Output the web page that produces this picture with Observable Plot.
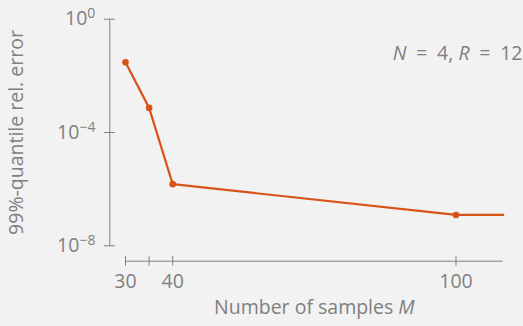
<!DOCTYPE html>
<html><head><meta charset="utf-8">
<script src="https://cdn.jsdelivr.net/npm/d3@7"></script>
<script src="https://cdn.jsdelivr.net/npm/@observablehq/plot@0.6"></script>
<style>
html,body{margin:0;padding:0;background:#f2f2f2;}
#chart svg{display:block;}
</style></head>
<body><div id="chart"></div>
<script>
// ---- data ----
const samplesM = [30, 35, 40, 100];
const errorQ99 = [3.0e-2, 7.4e-4, 1.5e-6, 1.23e-7];
const tailM = [110];            // line continues flat to the axis end (no marker)
const tailErr = [1.23e-7];
const xTicks = [30, 35, 40, 100];
const xTickLabels = ["30", "", "40", "100"];
const yTicks = [1, 1e-4, 1e-8];
const yTickExponents = ["0", "\u22124", "\u22128"];
const xLabelParts = ["Number of samples ", "M"];
const yLabel = "99%-quantile rel. error";
const noteParts = [["N", true], ["\u2002=\u20024, ", false], ["R", true], ["\u2002=\u200212", false]];

const points = samplesM.map((m, i) => ({m, err: errorQ99[i]}));
const lineData = points.concat(tailM.map((m, i) => ({m, err: tailErr[i]})));

const gray = "#808080";
const orange = "#d95319";

const plot = Plot.plot({
  width: 523,
  height: 326,
  marginLeft: 109.3,
  marginRight: 20.3,
  marginTop: 18.7,
  marginBottom: 80.7,
  style: {background: "#f2f2f2", color: gray, fontFamily: "'Open Sans', sans-serif", fontSize: "19.5px"},
  x: {domain: [30, 110], range: [125, 502.7]},
  y: {type: "log", domain: [1e-8, 1], range: [245.3, 18.7]},
  marks: [
    Plot.frame({anchor: "left", stroke: gray}),
    Plot.ruleY([1e-8], {x1: 30, x2: 110, dy: 15.4, stroke: gray}),
    Plot.axisX({ticks: xTicks, tickSize: 10, dy: 10.4, tickPadding: 8,
      tickFormat: d => xTickLabels[xTicks.indexOf(d)], label: null, stroke: gray}),
    Plot.axisY({ticks: yTicks, tickSize: 11, dx: 5.6, tickPadding: 9,
      tickFormat: d => "10^" + yTickExponents[yTicks.indexOf(d)], label: null, stroke: gray}),
    Plot.line(lineData, {x: "m", y: "err", stroke: orange, strokeWidth: 2.2}),
    Plot.dot(points, {x: "m", y: "err", r: 3.3, fill: orange}),
    Plot.text([xLabelParts.join("")], {x: 70, frameAnchor: "bottom", dy: 68.5, fill: gray, textAnchor: "middle"}),
    Plot.text([yLabel], {frameAnchor: "left", dx: -93, rotate: -90, fill: gray, textAnchor: "middle"}),
    Plot.text([noteParts.map(p => p[0]).join("")], {frameAnchor: "top-right", dx: 19.3, dy: 27, fill: gray, textAnchor: "end"})
  ]
});
document.getElementById("chart").appendChild(plot);

// rich text: superscripts and italics
const svg = d3.select(plot);
const xLabelText = xLabelParts.join("");
const noteText = noteParts.map(p => p[0]).join("");
svg.selectAll("text").each(function() {
  const s = this.textContent;
  const t = d3.select(this);
  if (s.startsWith("10^")) {
    t.text(null);
    t.append("tspan").text("10");
    t.append("tspan").attr("dy", "-0.5em").attr("font-size", "0.72em").text(s.slice(3));
  } else if (s === xLabelText) {
    t.text(null);
    t.append("tspan").text(xLabelParts[0]);
    t.append("tspan").attr("font-style", "italic").text(xLabelParts[1]);
  } else if (s === noteText) {
    t.text(null);
    noteParts.forEach(([txt, it]) => {
      const sp = t.append("tspan").text(txt);
      if (it) sp.attr("font-style", "italic");
    });
  }
});
</script>
</body></html>
